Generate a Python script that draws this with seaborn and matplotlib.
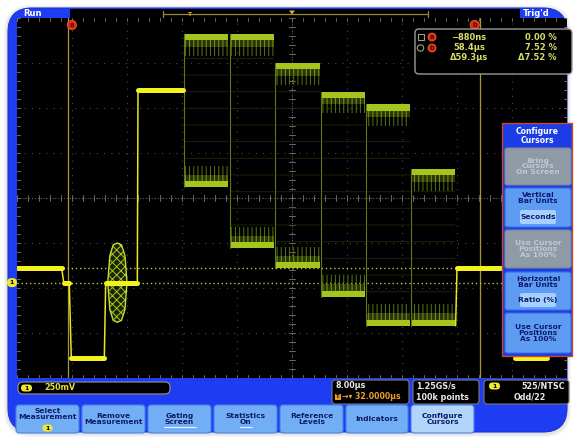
import numpy as np
import pandas as pd
import matplotlib
matplotlib.use("Agg")
import matplotlib.pyplot as plt
import seaborn as sns
from matplotlib.patches import FancyBboxPatch, Rectangle, Circle, Polygon

# ---------------- data (time in µs, CH1 in volts) ----------------
trace_t = [0.0, 6.5, 6.8, 7.6, 7.9, 12.7, 12.9, 17.5, 17.6, 24.1]
trace_v = [0.08, 0.08, 0.0, 0.0, -0.42, -0.42, 0.0, 0.0, 1.07, 1.07]
tail_t = [63.8, 64.0, 72.2, 72.5, 77.1, 77.3, 80.0]
tail_v = [-0.24, 0.08, 0.08, -0.42, -0.42, 0.0, 0.0]

bar_names = ["Yellow", "Cyan", "Green", "Magenta", "Red", "Blue"]
bar_start = [24.4, 31.1, 37.7, 44.4, 50.9, 57.5]
bar_end = [30.7, 37.4, 44.1, 50.6, 57.2, 63.7]
bar_top = [1.38, 1.38, 1.22, 1.06, 0.99, 0.63]
bar_bottom = [0.53, 0.19, 0.08, -0.08, -0.24, -0.24]

burst_t = [13.2, 13.5, 14.0, 14.6, 15.2, 15.7, 16.0]
burst_top = [0.0, 0.15, 0.21, 0.22, 0.21, 0.15, 0.0]
burst_bottom = [0.0, -0.15, -0.21, -0.22, -0.21, -0.15, 0.0]

cursor_t = [7.4, 67.3]
cursor_v = [0.0, 0.08]

time_per_div = 8.0
volts_per_div = 0.25
ch1_offset = 0.47  # volts at graticule centre

readout_left = ["\u2212880ns", "58.4\u00b5s", "\u039459.3\u00b5s"]
readout_right = ["0.00 %", "7.52 %", "\u03947.52 %"]

menu_title = "Configure\nCursors"
menu_buttons = ["Bring\nCursors\nOn Screen", "Vertical\nBar Units", "Use Cursor\nPositions\nAs 100%",
                "Horizontal\nBar Units", "Use Cursor\nPositions\nAs 100%"]
menu_values = [None, "Seconds", None, "Ratio (%)", None]
menu_enabled = [False, True, False, True, True]

bottom_buttons = ["Select\nMeasurement", "Remove\nMeasurement", "Gating\nScreen", "Statistics\nOn",
                  "Reference\nLevels", "Indicators", "Configure\nCursors"]

# ---------------- figure ----------------
sns.set_theme(style="white")
plt.rcParams["font.family"] = ["DejaVu Sans"]
plt.rcParams["hatch.linewidth"] = 0.7

W, H = 575, 437
fig = plt.figure(figsize=(5.75, 4.37), dpi=100)
fig.patch.set_facecolor("white")


def px_axes(x0, y0, x1, y1):
    return [x0 / W, 1 - y1 / H, (x1 - x0) / W, (y1 - y0) / H]


bg = fig.add_axes([0, 0, 1, 1], zorder=0)
bg.set_xlim(0, W); bg.set_ylim(H, 0); bg.axis("off")

# shadow + bezel
for i, a in enumerate([0.06, 0.06, 0.08]):
    d = 4 - i
    bg.add_patch(FancyBboxPatch((8 - d, 8 - d + 1), 559 + 2 * d, 424 + 2 * d,
                                boxstyle="round,pad=0,rounding_size=26", fc="#707070", ec="none", alpha=a))
bg.add_patch(FancyBboxPatch((8, 8), 559, 424, boxstyle="round,pad=0,rounding_size=24",
                            fc="#1e3cf2", ec="#1a34d8", lw=0.8))

# top status bar
bg.add_patch(Rectangle((70, 8.5), 450, 9.5, fc="black", ec="none"))
bg.plot([163, 428], [14, 14], color="#9a8a30", lw=0.9)
bg.plot([163, 163], [10.5, 17], color="#9a8a30", lw=0.9)
bg.plot([428, 428], [10.5, 17], color="#9a8a30", lw=0.9)
bg.text(189, 14, "T", color="#e89a20", fontsize=4.5, ha="center", va="center", fontweight="bold")
bg.add_patch(Polygon([[289, 10.5], [295, 10.5], [292, 14.5]], closed=True, fc="#e0b030", ec="none"))
bg.text(23, 13.2, "Run", color="white", fontsize=6, ha="left", va="center", fontweight="bold")
bg.text(523, 13.2, "Trig'd", color="white", fontsize=6, ha="left", va="center", fontweight="bold")

# ---------------- waveform axes ----------------
ax = fig.add_axes(px_axes(17, 18, 567, 378), zorder=1)
ax.set_facecolor("black")
tmax = 10 * time_per_div
vmin, vmax = ch1_offset - 4 * volts_per_div, ch1_offset + 4 * volts_per_div
ax.set_xlim(0, tmax); ax.set_ylim(vmin, vmax)
for s in ax.spines.values():
    s.set_visible(False)
ax.set_xticks([]); ax.set_yticks([])

grid_c = "#4a4a4a"
for k in range(1, 10):
    ax.axvline(k * time_per_div, color=grid_c, lw=0.8, ls=(0, (1, 5.5)), zorder=1)
for k in range(-3, 4):
    ax.axhline(ch1_offset + k * volts_per_div, color=grid_c, lw=0.8, ls=(0, (1, 5.5)), zorder=1)
# centre cross with minor ticks
tc = tmax / 2
ax.axvline(tc, color="#6a6a6a", lw=0.7, ls=(0, (1, 2)), zorder=1)
ax.axhline(ch1_offset, color="#6a6a6a", lw=0.7, ls=(0, (1, 2)), zorder=1)
dt_tick = 3 * time_per_div / 55
dv_tick = 3 * volts_per_div / 45
for vv in np.arange(vmin, vmax + 1e-9, volts_per_div / 5):
    ax.plot([tc - dt_tick, tc + dt_tick], [vv, vv], color="#6a6a6a", lw=0.7, zorder=1)
    ax.plot([0, dt_tick], [vv, vv], color="#6a6a6a", lw=0.7, zorder=1)
    ax.plot([tmax - dt_tick, tmax], [vv, vv], color="#6a6a6a", lw=0.7, zorder=1)
for tt in np.arange(0, tmax + 1e-9, time_per_div / 5):
    ax.plot([tt, tt], [ch1_offset - dv_tick, ch1_offset + dv_tick], color="#6a6a6a", lw=0.7, zorder=1)
    ax.plot([tt, tt], [vmax - dv_tick, vmax], color="#6a6a6a", lw=0.7, zorder=1)
    ax.plot([tt, tt], [vmin, vmin + dv_tick], color="#6a6a6a", lw=0.7, zorder=1)

# cursors
for t in cursor_t:
    ax.axvline(t, color="#a89830", lw=0.9, zorder=2)
for v in cursor_v:
    ax.axhline(v, color="#c8c040", lw=1.0, ls=(0, (1, 2)), zorder=2)

# colour-bar chroma packets
band = 0.034
tex = 0.12
for s, e, top, bot in zip(bar_start, bar_end, bar_top, bar_bottom):
    ax.fill_between([s, e], [bot + tex] * 2, [top - tex] * 2, facecolor="none",
                    edgecolor="#1c2406", hatch="-", lw=0, zorder=2)
    ax.fill_between([s, e], [top - tex] * 2, [top - band] * 2, facecolor="none",
                    edgecolor="#5a7412", hatch="||||", lw=0, zorder=3)
    ax.fill_between([s, e], [top - 0.07] * 2, [top - band] * 2, facecolor="#2a3608",
                    edgecolor="#7c9a18", hatch="||||", lw=0, zorder=3)
    ax.fill_between([s, e], [bot + band] * 2, [bot + tex] * 2, facecolor="none",
                    edgecolor="#5a7412", hatch="||||", lw=0, zorder=3)
    ax.fill_between([s, e], [bot + band] * 2, [bot + 0.07] * 2, facecolor="#2a3608",
                    edgecolor="#7c9a18", hatch="||||", lw=0, zorder=3)
    ax.fill_between([s, e], [top - band] * 2, [top] * 2, color="#a6c41e", lw=0, zorder=4)
    ax.fill_between([s, e], [bot] * 2, [bot + band] * 2, color="#a6c41e", lw=0, zorder=4)
    ax.plot([s - 0.15, s - 0.15], [bot, top], color="#5e7812", lw=0.8, zorder=3)

# colour burst
ax.fill_between(burst_t, burst_bottom, burst_top, facecolor="#1a2406", edgecolor="#a8c424",
                hatch="xxxx", lw=0, zorder=3)
env = pd.DataFrame({"t": burst_t + burst_t, "v": burst_top + burst_bottom,
                    "u": ["top"] * len(burst_t) + ["bot"] * len(burst_t)})
sns.lineplot(data=env, x="t", y="v", units="u", estimator=None, sort=False,
             color="#c8dc30", lw=1.0, ax=ax, zorder=4)

# main trace (thin transitions + thick flat levels)
segs = []
for name, tt, vv in [("head", trace_t, trace_v), ("tail", tail_t, tail_v)]:
    for t, v in zip(tt, vv):
        segs.append({"t": t, "v": v, "seg": name})
trace_df = pd.DataFrame(segs)
sns.lineplot(data=trace_df, x="t", y="v", units="seg", estimator=None, sort=False,
             color="#e4e81e", lw=1.1, ax=ax, zorder=5)
flats = []
n = 0
for tt, vv in [(trace_t, trace_v), (tail_t, tail_v)]:
    for i in range(len(tt) - 1):
        if vv[i] == vv[i + 1]:
            flats.append({"t": tt[i], "v": vv[i], "seg": n})
            flats.append({"t": tt[i + 1], "v": vv[i + 1], "seg": n})
            n += 1
flat_df = pd.DataFrame(flats)
sns.lineplot(data=flat_df, x="t", y="v", units="seg", estimator=None, sort=False,
             color="#f2f21e", lw=3.6, ax=ax, zorder=6)
ax.set_xlabel(""); ax.set_ylabel("")
if ax.get_legend():
    ax.get_legend().remove()

# ---------------- foreground overlay ----------------
fg = fig.add_axes([0, 0, 1, 1], zorder=5)
fg.set_xlim(0, W); fg.set_ylim(H, 0); fg.axis("off"); fg.patch.set_alpha(0)


def t2x(t):
    return 17 + t / tmax * 550


def v2y(v):
    return 18 + (vmax - v) / (vmax - vmin) * 360


def rbox(x0, y0, x1, y1, fc, ec="none", lw=0.8, r=3):
    fg.add_patch(FancyBboxPatch((x0, y0), x1 - x0, y1 - y0,
                                boxstyle=f"round,pad=0,rounding_size={r}", fc=fc, ec=ec, lw=lw))


def badge(x, y, txt, fc, tc, r=4.6, fs=4.8):
    fg.add_patch(Circle((x, y), r, fc=fc, ec="#ff6a40", lw=0.5))
    fg.text(x, y + 0.3, txt, color=tc, fontsize=fs, ha="center", va="center", fontweight="bold")


# cursor badges & ground marker
badge(t2x(cursor_t[0]) + 4, 25, "a", "#e02a10", "#5a0a00")
badge(t2x(cursor_t[1]) - 5, 25, "b", "#e02a10", "#5a0a00")
fg.add_patch(FancyBboxPatch((7, v2y(0) - 4.5), 10, 9, boxstyle="round,pad=0,rounding_size=4.5",
                            fc="#f0e830", ec="none"))
fg.text(12, v2y(0) + 0.3, "1", color="black", fontsize=4.5, ha="center", va="center", fontweight="bold")

# readout box
rbox(415, 29, 572, 74, fc="black", ec="#9a9a9a", lw=1.0, r=4)
rc = "#d6dc68"
rows_y = [37, 48, 58]
fg.add_patch(Rectangle((417.5, 33.5), 6, 6, fc="none", ec="#a0a080", lw=0.8))
fg.add_patch(Circle((420.5, 48), 3.2, fc="none", ec="#a0a080", lw=0.8))
badge(432, 37, "a", "#e02a10", "#5a0a00", r=4)
badge(432, 48, "b", "#e02a10", "#5a0a00", r=4)
for y, lt, rt in zip(rows_y, readout_left, readout_right):
    fg.text(469, y, lt, color=rc, fontsize=6, ha="center", va="center", fontweight="bold")
    fg.text(557, y, rt, color=rc, fontsize=6, ha="right", va="center", fontweight="bold")

# side menu
fg.add_patch(Rectangle((502, 123), 70, 233, fc="#1c3ce6", ec="#c84a28", lw=1.0))
fg.text(537, 136, menu_title, color="white", fontsize=5.6, ha="center", va="center",
        fontweight="bold", linespacing=0.95)
btn_y = [(148, 185), (188, 227), (230, 268), (272, 310), (313, 353)]
for (y0, y1), lab, val, en in zip(btn_y, menu_buttons, menu_values, menu_enabled):
    if en:
        rbox(505, y0, 571, y1, fc="#5e9cf4", ec="#3a6ee0", lw=0.8, r=2.5)
        tcol = "#0c1a6a"
    else:
        rbox(505, y0, 571, y1, fc="#8e9aa6", ec="#7888a0", lw=0.8, r=2.5)
        tcol = "#c2c8d0"
    if val is None:
        fg.text(538, (y0 + y1) / 2, lab, color=tcol, fontsize=5.4, ha="center", va="center",
                fontweight="bold", linespacing=0.95)
    else:
        fg.text(538, y0 + 10, lab, color=tcol, fontsize=5.4, ha="center", va="center",
                fontweight="bold", linespacing=0.95)
        rbox(520, y1 - 17, 556, y1 - 3, fc="#a6d0ff", ec="none", r=2)
        fg.text(538, y1 - 10, val, color=tcol, fontsize=5.4, ha="center", va="center", fontweight="bold")

# bottom status row
rbox(18, 382, 170, 394, fc="black", ec="#8a8a8a", lw=0.9, r=5)
fg.add_patch(FancyBboxPatch((21, 384.5), 11, 7, boxstyle="round,pad=0,rounding_size=3.5",
                            fc="#f0e830", ec="none"))
fg.text(26.5, 388.3, "1", color="black", fontsize=4.5, ha="center", va="center", fontweight="bold")
fg.text(44, 388, "250mV", color="#e6e040", fontsize=5.8, ha="left", va="center", fontweight="bold")

rbox(332, 380, 409, 404, fc="black", ec="#7a7a7a", lw=0.8, r=3)
fg.text(335, 386, "8.00\u00b5s", color="#e8e8e8", fontsize=5.8, ha="left", va="center", fontweight="bold")
fg.add_patch(Rectangle((335, 393.5), 6, 6, fc="#e89a20", ec="none"))
fg.text(338, 396.8, "T", color="black", fontsize=4, ha="center", va="center", fontweight="bold")
fg.text(342, 396.8, "\u2192\u25be 32.0000\u00b5s", color="#eca028", fontsize=5.6, ha="left",
        va="center", fontweight="bold")

rbox(413, 380, 479, 404, fc="black", ec="#7a7a7a", lw=0.8, r=3)
fg.text(416, 386, "1.25GS/s", color="#e8e8e8", fontsize=5.8, ha="left", va="center", fontweight="bold")
fg.text(416, 397, "100k points", color="#e8e8e8", fontsize=5.8, ha="left", va="center", fontweight="bold")

rbox(484, 380, 569, 404, fc="black", ec="#7a7a7a", lw=0.8, r=3)
fg.add_patch(FancyBboxPatch((489, 382.5), 11, 7, boxstyle="round,pad=0,rounding_size=3.5",
                            fc="#f0e830", ec="none"))
fg.text(494.5, 386.3, "1", color="black", fontsize=4.5, ha="center", va="center", fontweight="bold")
fg.text(565, 386, "525/NTSC", color="#e8e8e8", fontsize=5.8, ha="right", va="center", fontweight="bold")
fg.text(530, 397, "Odd/22", color="#e8e8e8", fontsize=5.8, ha="center", va="center", fontweight="bold")

# bottom buttons
bx = [(16, 79), (82, 145), (148, 211), (214, 277), (280, 343), (346, 408), (411, 474)]
for i, ((x0, x1), lab) in enumerate(zip(bx, bottom_buttons)):
    sel = (i == len(bx) - 1)
    rbox(x0, 405, x1, 433, fc="#b2d6fb" if sel else "#72aef6", ec="#4a80e6", lw=0.8, r=3)
    cx = (x0 + x1) / 2
    if i == 0:
        fg.text(cx, 414, lab, color="#0e1c64", fontsize=5.4, ha="center", va="center",
                fontweight="bold", linespacing=0.95)
        fg.add_patch(FancyBboxPatch((cx - 5, 424.5), 10, 7, boxstyle="round,pad=0,rounding_size=3.5",
                                    fc="#f0e830", ec="none"))
        fg.text(cx, 428.3, "1", color="black", fontsize=4.5, ha="center", va="center", fontweight="bold")
    else:
        fg.text(cx, 419, lab, color="#0e1c64", fontsize=5.4, ha="center", va="center",
                fontweight="bold", linespacing=1.0)
    if i in (2, 3):
        w = 16 if i == 2 else 6
        fg.plot([cx - w, cx + w], [427, 427], color="#e8f0ff", lw=0.8)

fig.savefig("out.png", dpi=100, facecolor="white")
